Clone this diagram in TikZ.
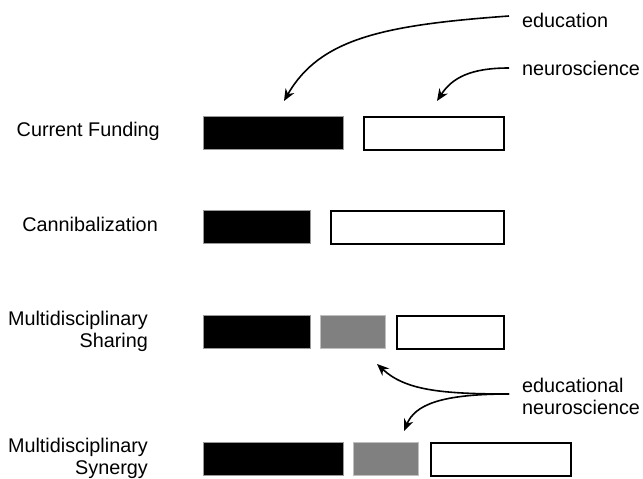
\documentclass[tikz,border=0pt]{standalone}
\usepackage{fontspec}
\setmainfont{Liberation Sans}
\usetikzlibrary{arrows.meta}
\tikzset{
  bar/.style={anchor=north west,inner sep=0pt,minimum height=33pt},
  edubar/.style={bar,fill=black,draw=black!40,line width=0.6pt},
  mixbar/.style={bar,fill=black!50,draw=black!25,line width=0.6pt},
  neubar/.style={bar,fill=white,draw=black,line width=1.8pt},
  rowlabel/.style={anchor=east,align=right,inner sep=0pt},
  keylabel/.style={anchor=west,align=left,inner sep=0pt},
  pointer/.style={->,line width=1.6pt}
}
\begin{document}
\begin{tikzpicture}[x=1pt,y=-1pt,font=\fontsize{19.8}{22}\selectfont,>={Stealth[length=12pt,width=10pt]}]
  \useasboundingbox (0,0) rectangle (643,479);

  % rows
  \node[rowlabel] (funding) at (160,131) {Current Funding};
  \node[edubar,minimum width=140pt] (fundEdu) at (203,116) {};
  \node[neubar,minimum width=140pt] (fundNeu) at (363,116) {};

  \node[rowlabel] (cannib) at (158,224) {Cannibalization};
  \node[edubar,minimum width=107pt] (canEdu) at (203,210) {};
  \node[neubar,minimum width=173pt] (canNeu) at (330,210) {};

  \node[rowlabel] (sharing) at (148,331) {Multidisciplinary\\Sharing};
  \node[edubar,minimum width=107pt] (shaEdu) at (203,315) {};
  \node[mixbar,minimum width=65pt] (shaMix) at (320,315) {};
  \node[neubar,minimum width=107pt] (shaNeu) at (396,315) {};

  \node[rowlabel] (synergy) at (148,458) {Multidisciplinary\\Synergy};
  \node[edubar,minimum width=140pt] (synEdu) at (203,442) {};
  \node[mixbar,minimum width=65pt] (synMix) at (353,442) {};
  \node[neubar,minimum width=140pt] (synNeu) at (430,442) {};

  % keys
  \node[keylabel] (edu) at (522,20) {education};
  \node[keylabel] (neu) at (522,68) {neuroscience};
  \node[keylabel] (eduneu) at (522,396) {educational\\neuroscience};

  \coordinate (eduTip) at (284,101);
  \coordinate (neuTip) at (437,101);
  \coordinate (shaTip) at (377,364);
  \coordinate (synTip) at (404,431);
  \coordinate (fork) at (509,394);

  \draw[pointer] ([xshift=-13pt,yshift=4pt]edu.west) .. controls (385,25) and (320,38) .. (eduTip);
  \draw[pointer] ([xshift=-13pt]neu.west) .. controls (470,68) and (452,78) .. (neuTip);
  \draw[pointer] (fork) .. controls (440,394) and (405,390) .. (shaTip);
  \draw[pointer] (fork) .. controls (440,394) and (415,405) .. (synTip);
\end{tikzpicture}
\end{document}
